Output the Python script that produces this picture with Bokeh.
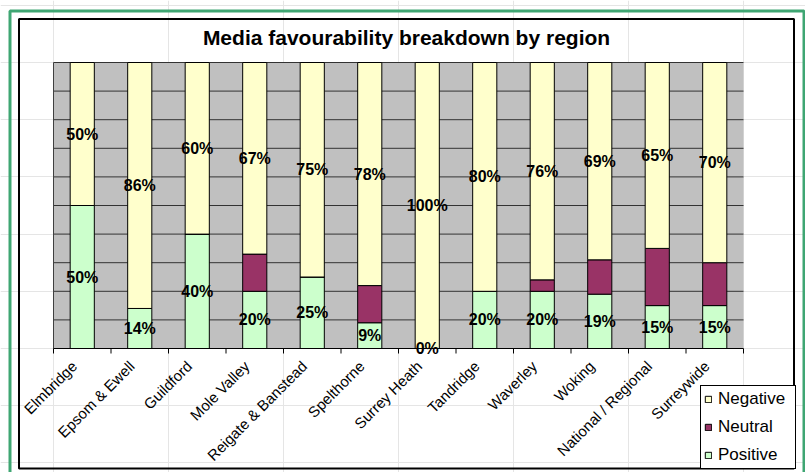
from math import pi
from bokeh.plotting import figure
from bokeh.models import (ColumnDataSource, Range1d, Label, BoxAnnotation, Legend, LegendItem)
from bokeh.core.properties import value
from bokeh.embed import file_html
from bokeh.resources import INLINE

# ---- data ----
regions = ["Elmbridge", "Epsom & Ewell", "Guildford", "Mole Valley", "Reigate & Banstead",
           "Spelthorne", "Surrey Heath", "Tandridge", "Waverley", "Woking",
           "National / Regional", "Surreywide"]
positive = [50, 14, 40, 20, 25, 9, 0, 20, 20, 19, 15, 15]
neutral = [0, 0, 0, 13, 0, 13, 0, 0, 4, 12, 20, 15]
negative = [50, 86, 60, 67, 75, 78, 100, 80, 76, 69, 65, 70]
series = ["Positive", "Neutral", "Negative"]
colors = ["#CCFFCC", "#993366", "#FFFFCC"]
grid_ticks = [10, 20, 30, 40, 50, 60, 70, 80, 90, 100]
title_text = "Media favourability breakdown by region"

FONT = "Liberation Sans"

# ---- layout geometry (pixels) ----
W, H = 805, 472
PL, PR, PT, PB = 53, 743, 62, 348          # plot area edges
n = len(regions)
SX = (PR - PL) / n                          # px per category
SY = (PB - PT) / 100.0                      # px per percent


def dx(px):
    return (px - PL) / SX


def dy(py):
    return (PB - py) / SY


centers = [i + 0.5 for i in range(n)]
boundaries = list(range(n + 1))

src = ColumnDataSource(dict(x=centers, region=regions, Positive=positive,
                            Neutral=neutral, Negative=negative))

p = figure(x_range=Range1d(dx(0), dx(W)), y_range=Range1d(dy(H), dy(0)),
           width=W, height=H, output_backend="svg", toolbar_location=None,
           x_axis_location=None, y_axis_location=None,
           min_border=0, min_border_left=0, min_border_right=0,
           min_border_top=0, min_border_bottom=0,
           background_fill_color="white", border_fill_color="white",
           outline_line_color=None)

# plot area background + gridlines
p.quad(left=[0], right=[n], bottom=[0], top=[100], fill_color="#C0C0C0", line_color=None)
p.segment(x0=[0] * len(grid_ticks), x1=[n] * len(grid_ticks), y0=grid_ticks, y1=grid_ticks,
          line_color="#333333", line_width=1)
p.segment(x0=[0], x1=[0], y0=[0], y1=[100], line_color="#404040", line_width=1)

renderers = p.vbar_stack(series, x="x", width=0.42, fill_color=colors,
                         line_color="black", line_width=1, source=src)

# category axis: line, boundary ticks, rotated labels
p.segment(x0=[0], x1=[n], y0=[0], y1=[0], line_color="black", line_width=1)
p.segment(x0=boundaries, x1=boundaries, y0=[0] * len(boundaries),
          y1=[dy(PB + 5)] * len(boundaries), line_color="black", line_width=1)
p.text(x=centers, y=[dy(PB + 15)] * n, text=regions, angle=pi / 4,
       text_align="right", text_baseline="middle", text_font=value(FONT),
       text_font_size="15px", text_color="black", x_offset=-8)

# data labels (positive and negative)
lx, ly, lt = [], [], []
for c, po, ne, ng in zip(centers, positive, neutral, negative):
    lx.append(c); ly.append(po / 2); lt.append(f"{po}%")
    lx.append(c); ly.append(po + ne + ng / 2); lt.append(f"{ng}%")
p.text(x=lx, y=ly, text=lt, text_align="center", text_baseline="middle",
       text_font=value(FONT), text_font_style="bold", text_font_size="16px",
       text_color="black")

# title
p.add_layout(Label(x=dx(406), y=dy(37), text=title_text,
                   text_align="center", text_baseline="middle", text_font=FONT,
                   text_font_style="bold", text_font_size="21px", text_color="black"))

# frames
p.add_layout(BoxAnnotation(left=dx(9.5), right=dx(803.5), top=dy(10.5), bottom=dy(H + 10),
                           fill_color=None, line_color="#3FA673", line_alpha=1, line_width=3))
p.add_layout(BoxAnnotation(left=dx(18.5), right=dx(793.5), top=dy(18.5), bottom=dy(468),
                           fill_color=None, line_color="black", line_alpha=1, line_width=2))

# legend
legend = Legend(items=[LegendItem(label=s, renderers=[r]) for s, r in
                       reversed(list(zip(series, renderers)))],
                location=(700, H - 469), orientation="vertical",
                border_line_color="black", border_line_alpha=1, border_line_width=1,
                background_fill_color="white", background_fill_alpha=1,
                padding=3, spacing=8, margin=0,
                glyph_width=8, glyph_height=8, label_standoff=6, label_width=74,
                label_text_font=FONT, label_text_font_size="17px", label_text_color="black")
p.add_layout(legend)

open("out.html", "w").write(file_html(p, INLINE))
